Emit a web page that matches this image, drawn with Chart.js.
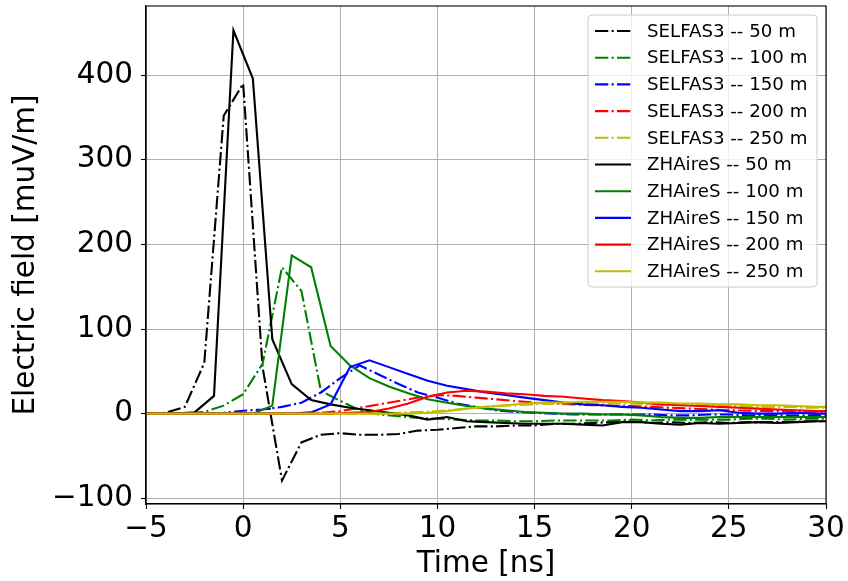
<!DOCTYPE html>
<html><head><meta charset="utf-8">
<script src="https://cdn.jsdelivr.net/npm/chart.js@4/dist/chart.umd.min.js"></script>
<style>html,body{margin:0;padding:0;background:#fff;}</style>
</head><body>
<canvas id="c" width="848" height="581"></canvas>
<script>
// ---- data ----
const timesSELFAS = [-5,-4,-3,-2,-1,0,1,2,3,4,5,6,7,8,9,10,11,12,13,14,15,16,17,18,19,20,21,22,23,24,25,26,27,28,29,30];
const timesZHAireS = [-5.5,-4.5,-3.5,-2.5,-1.5,-0.5,0.5,1.5,2.5,3.5,4.5,5.5,6.5,7.5,8.5,9.5,10.5,11.5,12.5,13.5,14.5,15.5,16.5,17.5,18.5,19.5,20.5,21.5,22.5,23.5,24.5,25.5,26.5,27.5,28.5,29.5,30.5];

const selfas50  = [0,1,8,60,352,390,55,-79,-34,-25,-23,-25,-25,-24,-20,-19,-17,-15,-15,-14,-14,-12,-12,-11,-10,-9,-11,-10,-11,-10,-11,-10,-10,-10,-9,-9];
const selfas100 = [0,0,0,2,9.5,23,59,173,145,27,15,4,-1,-3,-5,-6,-7,-8,-8,-9,-9,-8,-8,-8,-8,-7,-8,-7,-7,-7,-7,-6,-6,-7,-6,-6];
const selfas150 = [0,0,0,0,1,3.5,5,8,13,25,42,57,46,35,25,19,12,8,4,2,1,0,-1,-1,-1,-1,-1,-2,-2,-1,-1,-2,-2,-2,-2,-2];
const selfas200 = [0,0,0,0,0,0,0,0,0,1,3,7,11,15,19,22,21,19,17,15,13,12,11,10,9.5,9,8,7,6,5,4,3.5,3,3,2.5,2];
const selfas250 = [0,0,0,0,0,0,0,0,0,0,0,0,0,1,2,3,5,7,9,10,11,12,12,12,12,12,11,11,10,10,9,9,8,8,7,7];

const zhaires50  = [0,0,0,1.5,21,453,396,88,35,16,11,7,4,1,-2,-7,-4,-9,-10,-11,-12,-12,-12,-13,-14,-10,-10,-12,-13,-11,-12,-11,-10,-11,-10,-9,-9];
const zhaires100 = [0,0,0,0,0,0,0,9.5,187,173,80,57,42,32,24,17,13,9,6,4,2,1,0,0,-1,-1,-2,-4,-5,-5,-4,-4,-4,-4,-4,-4,-4];
const zhaires150 = [0,0,0,0,0,0,0,0,0,1.5,11,55,63,55,47,39,33,29,25,22,19,16,13,11,10,8,7,5,3,3,4,1,0,0,1,0,0];
const zhaires200 = [0,0,0,0,0,0,0,0,0,0,0,1,2,6,12,20,25,27,26,24,23,21,20,18,16,15,13,11,10,9,8,7,6,5,4,3,3];
const zhaires250 = [0,0,0,0,0,0,0,0,0,0,0,0,0,0,0,1,3,6,8,10,12,13,13,14,14,14,13,13,12,12,11,11,10,10,9,8,8];

const seriesLabels = ['SELFAS3 -- 50 m','SELFAS3 -- 100 m','SELFAS3 -- 150 m','SELFAS3 -- 200 m','SELFAS3 -- 250 m',
                      'ZHAireS -- 50 m','ZHAireS -- 100 m','ZHAireS -- 150 m','ZHAireS -- 200 m','ZHAireS -- 250 m'];
const xTicks = [-5,0,5,10,15,20,25,30];
const yTicks = [-100,0,100,200,300,400];

// ---- styles ----
const COLORS = ['#000000','#008000','#0000ff','#ff0000','#bfbf00'];
const DASHDOT = [13.3,3.3,2.1,3.3];
const FONT = "'DejaVu Sans', sans-serif";
const BIG = 29.5;

const allSeries = [
  [timesSELFAS, selfas50], [timesSELFAS, selfas100], [timesSELFAS, selfas150], [timesSELFAS, selfas200], [timesSELFAS, selfas250],
  [timesZHAireS, zhaires50], [timesZHAireS, zhaires100], [timesZHAireS, zhaires150], [timesZHAireS, zhaires200], [timesZHAireS, zhaires250]
];

const datasets = allSeries.map((s, i) => ({
  label: seriesLabels[i],
  data: s[0].map((t, k) => ({x: t, y: s[1][k]})),
  borderColor: COLORS[i % 5],
  backgroundColor: COLORS[i % 5],
  borderWidth: 2.1,
  borderDash: i < 5 ? DASHDOT : [],
  pointRadius: 0,
  tension: 0,
  fill: false,
  order: 20 - i
}));

const fmt = v => String(v).replace('-', '\u2212');

const framePlugin = {
  id: 'frame',
  afterDatasetsDraw(chart) {
    const {ctx, chartArea: a} = chart;
    ctx.save();
    ctx.strokeStyle = '#000';
    ctx.lineWidth = 1.1;
    ctx.strokeRect(a.left, a.top, a.right - a.left, a.bottom - a.top);
    ctx.restore();
  }
};

const legendPlugin = {
  id: 'boxLegend',
  afterDraw(chart) {
    const {ctx, chartArea: a} = chart;
    const x0 = a.right - 238, y0 = a.top + 9, w = 229, h = 272, r = 4;
    ctx.save();
    ctx.beginPath();
    ctx.moveTo(x0 + r, y0);
    ctx.arcTo(x0 + w, y0, x0 + w, y0 + h, r);
    ctx.arcTo(x0 + w, y0 + h, x0, y0 + h, r);
    ctx.arcTo(x0, y0 + h, x0, y0, r);
    ctx.arcTo(x0, y0, x0 + w, y0, r);
    ctx.closePath();
    ctx.fillStyle = 'rgba(255,255,255,0.8)';
    ctx.fill();
    ctx.strokeStyle = '#cccccc';
    ctx.lineWidth = 1;
    ctx.stroke();
    ctx.font = '18.2px ' + FONT;
    ctx.textBaseline = 'middle';
    ctx.textAlign = 'left';
    chart.data.datasets.forEach((ds, i) => {
      const y = y0 + 16 + i * 26.7;
      ctx.beginPath();
      ctx.setLineDash(ds.borderDash);
      ctx.lineCap = 'butt';
      ctx.strokeStyle = ds.borderColor;
      ctx.lineWidth = 2.1;
      ctx.moveTo(x0 + 7, y);
      ctx.lineTo(x0 + 43, y);
      ctx.stroke();
      ctx.setLineDash([]);
      ctx.fillStyle = '#000';
      ctx.fillText(ds.label, x0 + 59, y + 1);
    });
    ctx.restore();
  }
};

new Chart(document.getElementById('c'), {
  type: 'line',
  data: {datasets},
  options: {
    responsive: false,
    animation: false,
    devicePixelRatio: 1,
    layout: {padding: {top: 6, right: 22, left: 0, bottom: 0}},
    plugins: {legend: {display: false}, tooltip: {enabled: false}},
    scales: {
      x: {
        type: 'linear', min: -5, max: 30,
        afterBuildTicks: s => { s.ticks = xTicks.map(v => ({value: v})); },
        afterFit: s => { s.height = 77; s.paddingLeft = 0; s.paddingRight = 0; },
        ticks: {font: {family: FONT, size: BIG}, color: '#000', padding: 3, maxRotation: 0, autoSkip: false, callback: v => fmt(v)},
        grid: {color: '#b0b0b0', lineWidth: 1, tickColor: '#000', tickLength: 5, tickWidth: 1.1},
        border: {color: '#000', width: 1.1},
        title: {display: true, text: 'Time [ns]', font: {family: FONT, size: BIG}, color: '#000', padding: {top: 0, bottom: -1}}
      },
      y: {
        type: 'linear', min: -106.75, max: 481.75,
        afterBuildTicks: s => { s.ticks = yTicks.map(v => ({value: v})); },
        afterFit: s => { s.width = 146; s.paddingTop = 0; s.paddingBottom = 0; },
        ticks: {font: {family: FONT, size: BIG}, color: '#000', padding: 8, autoSkip: false, callback: v => fmt(v)},
        grid: {color: '#b0b0b0', lineWidth: 1, tickColor: '#000', tickLength: 5, tickWidth: 1.1},
        border: {color: '#000', width: 1.1},
        title: {display: true, text: 'Electric field [muV/m]', font: {family: FONT, size: BIG}, color: '#000', padding: {top: 9, bottom: 0}}
      }
    }
  },
  plugins: [framePlugin, legendPlugin]
});
</script>
</body></html>
